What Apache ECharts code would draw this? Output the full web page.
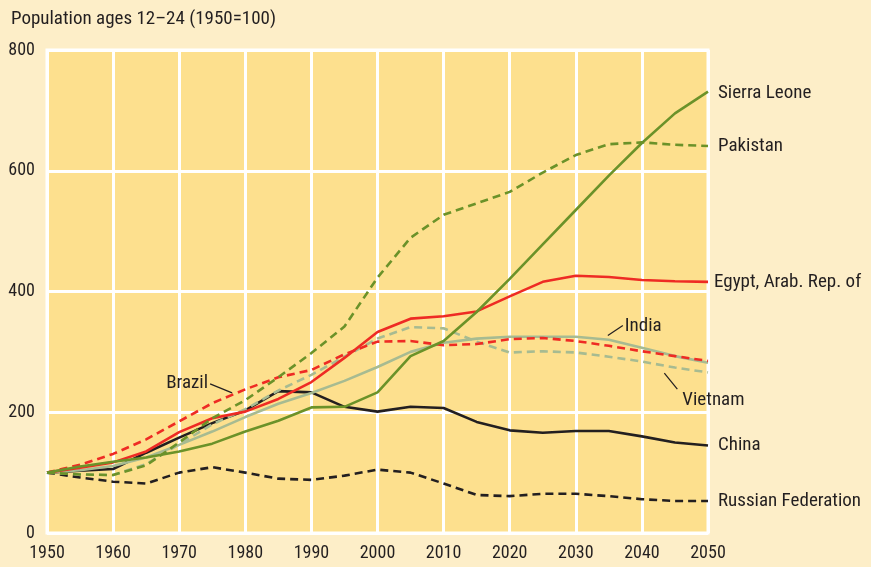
<!DOCTYPE html>
<html>
<head>
<meta charset="utf-8">
<script src="https://cdn.jsdelivr.net/npm/echarts@6/dist/echarts.min.js"></script>
<style>
  html, body { margin: 0; padding: 0; background: #fdeec8; }
  #myChart { width: 871px; height: 567px; }
</style>
</head>
<body>
<div id="myChart"></div>
<script>
// years 1950..2050 every 5 years
var years = [1950,1955,1960,1965,1970,1975,1980,1985,1990,1995,2000,2005,2010,2015,2020,2025,2030,2035,2040,2045,2050];
var yTicks = [0, 200, 400, 600, 800];

var sierraLeone = [100,110,118,125,135,148,168,186,208,209,233,293,318,366,421,478,535,592,646,695,731];
var pakistan    = [100,97,96,112,150,190,220,258,298,342,423,489,527,546,565,597,626,644,647,643,641];
var egypt       = [100,108,117,135,167,190,201,222,250,290,333,355,359,367,392,416,426,424,419,417,416];
var brazil      = [100,113,131,155,185,215,238,258,270,296,317,318,311,313,321,323,318,310,301,293,285];
var india       = [100,104,111,125,146,168,192,214,232,252,275,300,315,322,325,325,325,320,307,293,282];
var vietnam     = [100,97,96,114,147,180,205,236,262,292,322,341,339,317,299,301,299,292,284,274,266];
var china       = [100,103,106,133,158,182,203,235,233,209,201,209,207,184,170,166,169,169,160,150,145];
var russia      = [100,92,85,82,100,109,100,90,88,95,105,100,82,63,61,65,65,61,56,53,53];

var FONT = "'Liberation Sans Narrow', 'Roboto Condensed', 'Liberation Sans', sans-serif";
var TEXT = '#231f20';
var GREEN = '#6b9229';
var RED = '#ee2b24';
var PALE = '#a7bb91';
var BLACK = '#231f20';

function pairs(vals) {
    var out = [];
    for (var i = 0; i < years.length; i++) out.push([years[i], vals[i]]);
    return out;
}

function makeLine(name, label, vals, color, dashed, showEnd, dist, dy) {
    return {
        name: name,
        type: 'line',
        data: pairs(vals),
        symbol: 'none',
        smooth: false,
        lineStyle: { color: color, width: 2.6, type: dashed ? [8, 5] : 'solid' },
        endLabel: {
            show: showEnd,
            formatter: label,
            distance: dist || 10,
            offset: [0, dy || 0],
            color: TEXT,
            fontFamily: FONT,
            fontSize: 19
        },
        z: 3
    };
}

var myChart = echarts.init(document.getElementById('myChart'));
var option = {
    animation: false,
    backgroundColor: '#fdeec8',
    textStyle: { fontFamily: FONT },
    title: {
        text: 'Population ages 12\u201324 (1950=100)',
        left: 6, top: 5,
        textStyle: { fontFamily: FONT, fontSize: 19, fontWeight: 'normal', color: TEXT }
    },
    grid: {
        left: 47, right: 163, top: 50, bottom: 34,
        show: true,
        backgroundColor: '#fde08e',
        borderColor: '#ffffff',
        borderWidth: 3
    },
    xAxis: {
        type: 'value',
        min: 1950, max: 2050, interval: 10,
        axisLine: { show: false },
        axisTick: { show: false },
        axisLabel: { color: TEXT, fontFamily: FONT, fontSize: 18, margin: 11, formatter: function (v) { return String(v); } },
        splitLine: { show: true, lineStyle: { color: '#ffffff', width: 3 } }
    },
    yAxis: {
        type: 'value',
        min: 0, max: 800, interval: 200,
        axisLine: { show: false },
        axisTick: { show: false },
        axisLabel: { color: TEXT, fontFamily: FONT, fontSize: 18, margin: 12 },
        splitLine: { show: true, lineStyle: { color: '#ffffff', width: 3 } }
    },
    series: [
        makeLine('Russian Federation', 'Russian Federation', russia, BLACK, true, true),
        makeLine('China', 'China', china, BLACK, false, true),
        makeLine('Vietnam', 'Vietnam', vietnam, PALE, true, false),
        makeLine('India', 'India', india, PALE, false, false),
        makeLine('Brazil', 'Brazil', brazil, RED, true, false),
        makeLine('Egypt', 'Egypt, Arab. Rep. of', egypt, RED, false, true, 6),
        makeLine('Pakistan', 'Pakistan', pakistan, GREEN, true, true),
        makeLine('Sierra Leone', 'Sierra Leone', sierraLeone, GREEN, false, true, 10, 2)
    ]
};
myChart.setOption(option);

// callout labels with leader lines, anchored to data points through the axes
function px(year, v) { return myChart.convertToPixel({ gridIndex: 0 }, [year, v]); }
var indiaPt = px(2035, 322);
var vietPt = px(2044, 278);
var brazilPt = px(1978, 232);
var txt = { fill: TEXT, fontFamily: FONT, fontSize: 19 };
myChart.setOption({
    graphic: [
        { type: 'line', shape: { x1: indiaPt[0] - 1, y1: indiaPt[1] - 3, x2: indiaPt[0] + 14, y2: indiaPt[1] - 13 }, style: { stroke: TEXT, lineWidth: 1.2 } },
        { type: 'text', x: indiaPt[0] + 16, y: indiaPt[1] - 12, style: Object.assign({ text: 'India', textVerticalAlign: 'middle' }, txt) },
        { type: 'line', shape: { x1: vietPt[0] - 4, y1: vietPt[1] + 8, x2: vietPt[0] + 9, y2: vietPt[1] + 24 }, style: { stroke: TEXT, lineWidth: 1.2 } },
        { type: 'text', x: vietPt[0] + 14, y: vietPt[1] + 35, style: Object.assign({ text: 'Vietnam', textVerticalAlign: 'middle' }, txt) },
        { type: 'line', shape: { x1: brazilPt[0] - 22, y1: brazilPt[1] - 9, x2: brazilPt[0], y2: brazilPt[1] }, style: { stroke: TEXT, lineWidth: 1.2 } },
        { type: 'text', x: brazilPt[0] - 24, y: brazilPt[1] - 10, style: Object.assign({ text: 'Brazil', textAlign: 'right', textVerticalAlign: 'middle' }, txt) }
    ]
});
</script>
</body>
</html>
